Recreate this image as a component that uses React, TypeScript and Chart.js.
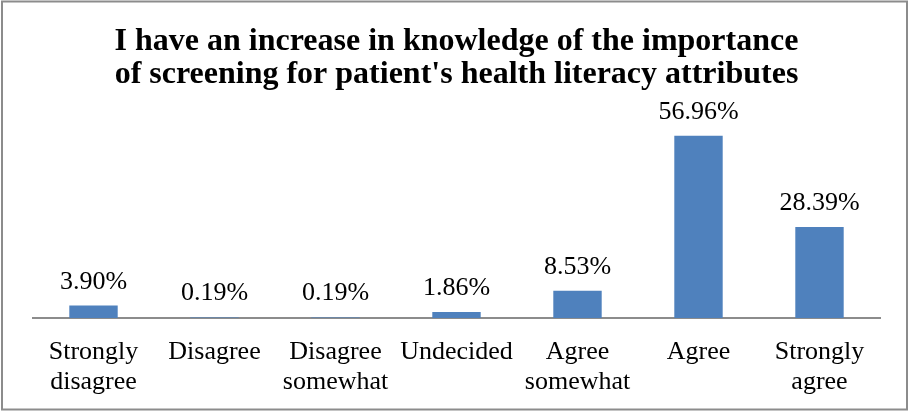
import React, { useEffect, useRef } from "react";
import { Chart, registerables } from "chart.js";

Chart.register(...registerables);

const categories: string[][] = [
  ["Strongly", "disagree"],
  ["Disagree"],
  ["Disagree", "somewhat"],
  ["Undecided"],
  ["Agree", "somewhat"],
  ["Agree"],
  ["Strongly", "agree"],
];
const values: number[] = [3.9, 0.19, 0.19, 1.86, 8.53, 56.96, 28.39];
const valueLabels: string[] = ["3.90%", "0.19%", "0.19%", "1.86%", "8.53%", "56.96%", "28.39%"];
const titleLines: string[] = [
  "I have an increase in knowledge of the importance",
  "of screening for patient's health literacy attributes",
];

const SERIF = "'Liberation Serif', 'Times New Roman', serif";

export default function App() {
  const ref = useRef<HTMLCanvasElement | null>(null);
  useEffect(() => {
    document.body.style.margin = "0";
    const canvas = ref.current!;
    const borderPlugin = {
      id: "outerBorder",
      beforeDraw(chart: any) {
        const ctx = chart.ctx;
        ctx.save();
        ctx.fillStyle = "#ffffff";
        ctx.fillRect(0, 0, chart.width, chart.height);
        ctx.strokeStyle = "#8c8c8c";
        ctx.lineWidth = 2;
        ctx.strokeRect(2, 1.5, 905, 408);
        ctx.restore();
      },
    };
    const labelPlugin = {
      id: "valueLabels",
      afterDatasetsDraw(chart: any) {
        const ctx = chart.ctx;
        const meta = chart.getDatasetMeta(0);
        ctx.save();
        ctx.font = `26px ${SERIF}`;
        ctx.fillStyle = "#000000";
        ctx.textAlign = "center";
        ctx.textBaseline = "alphabetic";
        meta.data.forEach((bar: any, i: number) => {
          ctx.fillText(valueLabels[i], bar.x, bar.y - 17);
        });
        ctx.restore();
      },
    };
    const chart = new Chart(canvas, {
      type: "bar",
      data: {
        labels: categories,
        datasets: [
          {
            data: values,
            backgroundColor: "#4F81BD",
            borderColor: "#4F81BD",
            borderWidth: 0,
            categoryPercentage: 1,
            barPercentage: 0.4,
          },
        ],
      },
      options: {
        responsive: false,
        animation: false,
        layout: { padding: { left: 33, right: 30, top: 25, bottom: 15 } },
        plugins: {
          legend: { display: false },
          tooltip: { enabled: false },
          title: {
            display: true,
            text: titleLines,
            color: "#000000",
            font: { family: SERIF, size: 32, weight: "bold", lineHeight: 1.03 },
            padding: { top: 0, bottom: 35 },
          },
        },
        scales: {
          x: {
            grid: { display: false, drawTicks: false },
            border: { display: true, color: "#8c8c8c", width: 2 },
            ticks: {
              color: "#000000",
              font: { family: SERIF, size: 26, lineHeight: 1.15 },
              padding: 19,
              maxRotation: 0,
              autoSkip: false,
            },
            afterFit(scale: any) {
              scale.height = 79;
            },
          },
          y: {
            display: false,
            min: 0,
            max: 60,
          },
        },
      },
      plugins: [borderPlugin, labelPlugin],
    });
    return () => chart.destroy();
  }, []);
  return (
    <div style={{ width: 910, height: 412 }}>
      <canvas ref={ref} width={910} height={412} style={{ display: "block" }} />
    </div>
  );
}
